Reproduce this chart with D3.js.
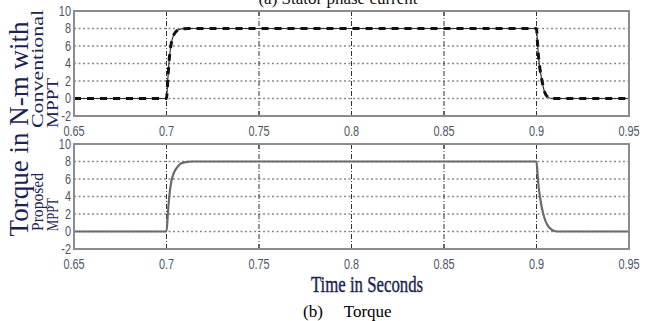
<!DOCTYPE html>
<html>
<head>
<meta charset="utf-8">
<script src="https://cdn.jsdelivr.net/npm/d3@7"></script>
<style>
  body { margin: 0; background: #fff; }
  svg { display: block; }
</style>
</head>
<body>
<svg id="chart" width="652" height="321"></svg>
<script>
// time axis
const xTicks = [0.65, 0.7, 0.75, 0.8, 0.85, 0.9, 0.95];
const xTickLabels = ['0.65', '0.7', '0.75', '0.8', '0.85', '0.9', '0.95'];
const yTicks = [-2, 0, 2, 4, 6, 8, 10];

// torque, conventional MPPT (top)
const convTime = [0.65, 0.7, 0.7008, 0.7015, 0.7025, 0.704, 0.706, 0.708, 0.712, 0.9, 0.9005, 0.901, 0.902, 0.903, 0.904, 0.9055, 0.908, 0.95];
const convTorque = [0, 0, 2.5, 4.5, 6.2, 7.3, 7.8, 7.95, 8, 8, 6.5, 5.0, 3.2, 2.0, 1.0, 0.3, 0, 0];

// torque, proposed MPPT (bottom)
const propTime = [0.65, 0.7, 0.7008, 0.7015, 0.7025, 0.704, 0.706, 0.708, 0.711, 0.714, 0.9, 0.9005, 0.901, 0.902, 0.903, 0.9045, 0.906, 0.908, 0.911, 0.95];
const propTorque = [0, 0, 2.2, 4.0, 5.6, 6.7, 7.4, 7.8, 7.95, 8, 8, 6.8, 5.4, 3.8, 2.6, 1.4, 0.7, 0.25, 0, 0];

const svg = d3.select('#chart');

const x = d3.scaleLinear().domain([0.65, 0.95]).range([74, 629]);

const panels = [
    { top: 11, bottom: 116, time: convTime, val: convTorque, dashed: true },
    { top: 144, bottom: 249, time: propTime, val: propTorque, dashed: false }
];

const tickFont = 'Arial, "Liberation Sans", sans-serif';

panels.forEach(function(p) {
    const y = d3.scaleLinear().domain([-2, 10]).range([p.bottom, p.top]);
    const g = svg.append('g');

    // horizontal dotted grid
    g.selectAll('line.hgrid')
        .data(yTicks.filter(v => v > -2 && v < 10))
        .join('line')
        .attr('x1', x(0.65)).attr('x2', x(0.95))
        .attr('y1', d => y(d)).attr('y2', d => y(d))
        .attr('stroke', '#8a8a8a')
        .attr('stroke-width', 1.5)
        .attr('stroke-dasharray', '2,2.5');

    // vertical dash-dot grid
    g.selectAll('line.vgrid')
        .data(xTicks.filter(v => v > 0.65 && v < 0.95))
        .join('line')
        .attr('x1', d => x(d)).attr('x2', d => x(d))
        .attr('y1', p.top).attr('y2', p.bottom)
        .attr('stroke', '#333')
        .attr('stroke-width', 1)
        .attr('stroke-dasharray', '5,2,1,2');

    // ticks on top/bottom edges
    g.selectAll('line.tt')
        .data(xTicks)
        .join('line')
        .attr('x1', d => x(d)).attr('x2', d => x(d))
        .attr('y1', p.top).attr('y2', p.top + 5)
        .attr('stroke', '#333');
    g.selectAll('line.tb')
        .data(xTicks)
        .join('line')
        .attr('x1', d => x(d)).attr('x2', d => x(d))
        .attr('y1', p.bottom).attr('y2', p.bottom - 5)
        .attr('stroke', '#333');

    const pts = p.time.map((t, i) => [t, p.val[i]]);
    const line = d3.line().x(d => x(d[0])).y(d => y(d[1])).curve(d3.curveMonotoneX);

    if (p.dashed) {
        g.append('path')
            .attr('d', line(pts))
            .attr('fill', 'none')
            .attr('stroke', '#333')
            .attr('stroke-width', 1.2);
        g.append('path')
            .attr('d', line(pts))
            .attr('fill', 'none')
            .attr('stroke', '#111')
            .attr('stroke-width', 3)
            .attr('stroke-dasharray', '7,6');
    } else {
        g.append('path')
            .attr('d', line(pts))
            .attr('fill', 'none')
            .attr('stroke', '#6a6a6a')
            .attr('stroke-width', 2.2);
    }

    // frame
    g.append('rect')
        .attr('x', x(0.65)).attr('y', p.top)
        .attr('width', x(0.95) - x(0.65)).attr('height', p.bottom - p.top)
        .attr('fill', 'none')
        .attr('stroke', '#8c8c8c')
        .attr('stroke-width', 2);

    // y tick labels (narrow)
    g.selectAll('text.yl')
        .data(yTicks)
        .join('text')
        .attr('transform', d => `translate(71,${y(d) + 4.5}) scale(0.78,1)`)
        .attr('text-anchor', 'end')
        .attr('font-family', tickFont)
        .attr('font-size', 14)
        .attr('fill', '#4d5468')
        .text(d => d);

    // x tick labels (narrow)
    g.selectAll('text.xl')
        .data(xTicks)
        .join('text')
        .attr('transform', d => `translate(${x(d)},${p.bottom + 20}) scale(0.78,1)`)
        .attr('text-anchor', 'middle')
        .attr('font-family', tickFont)
        .attr('font-size', 14)
        .attr('fill', '#4d5468')
        .text((d, i) => xTickLabels[i]);
});

const serif = '"Liberation Serif", "Times New Roman", serif';

// cut-off caption of the figure above
svg.append('text')
    .attr('x', 338).attr('y', 4)
    .attr('text-anchor', 'middle')
    .attr('font-family', serif)
    .attr('font-size', 17)
    .attr('fill', '#111')
    .text('(a)    Stator phase current');

// big y label
svg.append('text')
    .attr('transform', 'translate(28,129) rotate(-90)')
    .attr('text-anchor', 'middle')
    .attr('font-family', serif)
    .attr('font-size', 27)
    .attr('fill', '#1c2350')
    .text('Torque in N-m with');

// panel sub-labels (stretched like the source)
const sub = [
    { text: 'Conventional', col: 0, y0: 128, len: 118 },
    { text: 'MPPT', col: 1, y0: 128, len: 50 },
    { text: 'Proposed', col: 0, y0: 231, len: 58 },
    { text: 'MPPT', col: 1, y0: 231, len: 33 }
];
sub.forEach(function(s) {
    svg.append('text')
        .attr('transform', `translate(${43 + s.col * 15},${s.y0}) rotate(-90)`)
        .attr('text-anchor', 'start')
        .attr('font-family', serif)
        .attr('font-size', 16)
        .attr('fill', '#1c2350')
        .attr('textLength', s.len)
        .attr('lengthAdjust', 'spacingAndGlyphs')
        .text(s.text);
});

// x label, condensed
svg.append('text')
    .attr('transform', 'translate(367,292) scale(0.7,1)')
    .attr('text-anchor', 'middle')
    .attr('font-family', serif)
    .attr('font-size', 24)
    .attr('fill', '#1c2350')
    .attr('stroke', '#1c2350')
    .attr('stroke-width', 0.4)
    .text('Time in Seconds');

svg.append('text')
    .attr('x', 303).attr('y', 317)
    .attr('font-family', serif)
    .attr('font-size', 17)
    .attr('fill', '#000')
    .style('white-space', 'pre')
    .text('(b)     Torque');
</script>
</body>
</html>
